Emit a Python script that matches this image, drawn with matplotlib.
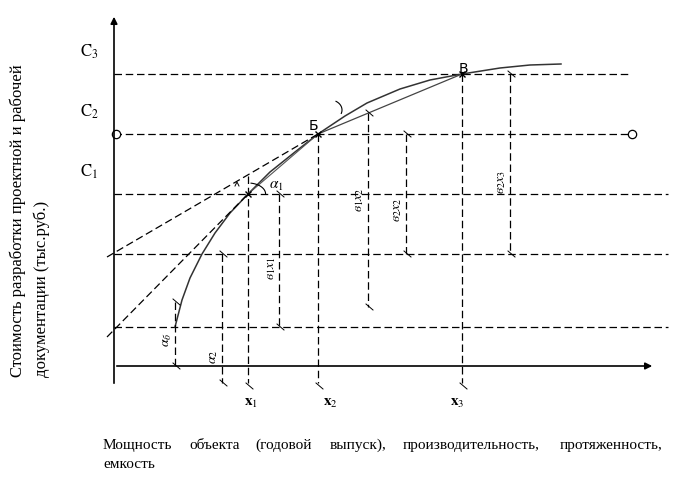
import numpy as np
import matplotlib.pyplot as plt

plt.rcParams['mathtext.fontset'] = 'stix'
plt.rcParams['font.family'] = ['Liberation Serif', 'DejaVu Serif']

# схема строится в пиксельных координатах рисунка
levels_y = [74, 134, 194, 254, 327]          # горизонтальные уровни
levels_x_end = [628, 632, 668, 668, 668]
level_names = [r'$\mathrm{C}_3$', r'$\mathrm{C}_2$', r'$\mathrm{C}_1$']
level_name_y = [52, 112, 172]

# кривая стоимости
curve_x = [175, 182, 190, 202, 215, 230, 248, 270, 295, 318, 345, 367, 400, 430, 462, 500, 530, 561]
curve_y = [327, 300, 278, 254, 233, 213, 194, 172, 152, 134, 116, 103, 89, 80, 74, 68, 65, 64]

# характерные точки x1, Б, В
pts_x = [248, 318, 462]
pts_y = [194, 134, 74]
x_names = [r'$\mathbf{x}_1$', r'$\mathbf{x}_2$', r'$\mathbf{x}_3$']
x_name_pos = [251, 330, 457]

# размерные линии: x, верх, низ, подпись, положение подписи
dims_x = [175, 222, 279, 368, 406, 510]
dims_top = [302, 254, 194, 113, 134, 74]
dims_bot = [366, 383, 327, 307, 254, 254]
dims_lab = [r'$\alpha_б$', r'$\alpha_2$', r'$в_1x_1$', r'$в_1x_2$', r'$в_2x_2$', r'$в_2x_3$']
dims_lab_x = [167, 214, 271, 359, 398, 502]
dims_lab_y = [340, 357, 268, 200, 210, 182]

fig = plt.figure(figsize=(6.8, 4.8), dpi=100)
ax = fig.add_axes([0, 0, 1, 1])
ax.set_xlim(0, 680)
ax.set_ylim(480, 0)
ax.axis('off')

dash = (6, 3)
lw = 0.9

# оси
ax.annotate('', xy=(114, 14), xytext=(114, 386),
            arrowprops=dict(arrowstyle='-|>', color='k', lw=1.2, mutation_scale=10))
ax.annotate('', xy=(655, 366), xytext=(114, 366),
            arrowprops=dict(arrowstyle='-|>', color='k', lw=1.2, mutation_scale=10))

# горизонтальные штриховые уровни
for y, xe in zip(levels_y, levels_x_end):
    ax.plot([114, xe], [y, y], color='k', lw=lw, dashes=dash)
ax.plot([116, 632], [134, 134], 'o', mfc='white', mec='k', ms=6, mew=0.9)

for t, y in zip(level_names, level_name_y):
    ax.text(80, y, t, fontsize=12, ha='left', va='center')

# вертикали от точек до оси x
for x, y in zip(pts_x, pts_y):
    ax.plot([x, x], [y if x != 248 else 176, 383], color='k', lw=lw, dashes=dash)
    ax.plot([x - 2, x + 5], [383, 389], color='k', lw=0.7)

# кривая, хорды и касательные
ax.plot(curve_x, curve_y, color='#333333', lw=1.1)
ax.plot([318, 462], [134, 74], color='#444444', lw=0.9)
ax.plot([248, 318], [194, 134], color='#555555', lw=0.8)
ax.plot([107, 318], [257, 134], color='k', lw=lw, dashes=dash)
ax.plot([107, 248], [337, 194], color='k', lw=lw, dashes=dash)
ax.plot(pts_x, pts_y, 'x', color='k', ms=4, mew=1)

ax.text(313, 126, 'Б', fontsize=10, family='DejaVu Sans', ha='center', va='center')
ax.text(463, 69, 'В', fontsize=10, family='DejaVu Sans', ha='center', va='center')
for t, x in zip(x_names, x_name_pos):
    ax.text(x, 403, t, fontsize=11, ha='center', va='center')

# размерные линии
for x, t0, b, lab, lx, ly in zip(dims_x, dims_top, dims_bot, dims_lab, dims_lab_x, dims_lab_y):
    ax.plot([x, x], [t0, b], color='k', lw=lw, dashes=dash)
    ax.plot([x - 2, x + 5], [t0 - 3, t0 + 3], color='k', lw=0.7)
    ax.plot([x - 2, x + 5], [b - 3, b + 3], color='k', lw=0.7)
    ax.text(lx, ly, lab, fontsize=10, rotation=90, ha='center', va='center', style='italic')

# отметки углов
th = np.linspace(-80, 0, 20)
ax.plot(248 + 22 * np.cos(np.radians(th)) * 0.8, 194 + 22 * np.sin(np.radians(th)) * 0.5,
        color='k', lw=0.8)
ax.text(276, 186, r'$\alpha_1$', fontsize=11, ha='center', va='center')
ax.plot([235, 237, 239], [186, 182, 186], color='k', lw=0.7)
th2 = np.linspace(-60, 20, 20)
ax.plot(330 + 12 * np.cos(np.radians(th2)), 110 + 10 * np.sin(np.radians(th2)), color='k', lw=0.8)

# подписи осей
ax.text(18, 377, 'Стоимость разработки проектной и рабочей', fontsize=12,
        rotation=90, ha='center', va='bottom')
ax.text(42, 377, 'документации (тыс.руб.)', fontsize=12,
        rotation=90, ha='center', va='bottom')

words = ['Мощность', 'объекта', '(годовой', 'выпуск),', 'производительность,', 'протяженность,']
words_x = [103, 189, 255, 330, 403, 560]
for w, x in zip(words, words_x):
    ax.text(x, 449, w, fontsize=11, ha='left', va='baseline')
ax.text(103, 468, 'емкость', fontsize=11, ha='left', va='baseline')

fig.savefig('out.png', dpi=100)
